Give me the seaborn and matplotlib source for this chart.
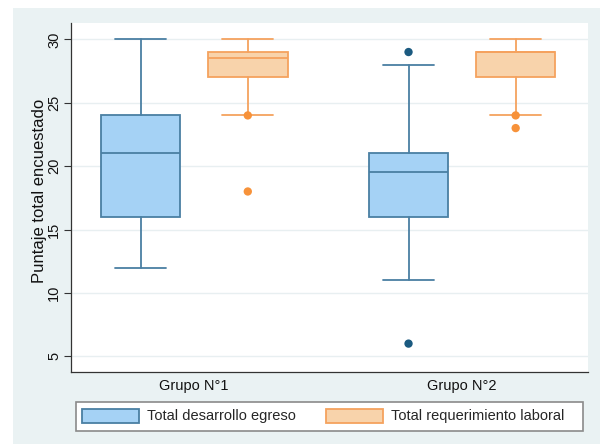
import numpy as np
import pandas as pd
import matplotlib
matplotlib.use("Agg")
import matplotlib.pyplot as plt
import seaborn as sns
from matplotlib.patches import Patch, Rectangle

# ---- data ----
groups = ["Grupo N°1", "Grupo N°2"]
series = ["Total desarrollo egreso", "Total requerimiento laboral"]

des_low = [12, 11]
des_q1 = [16, 16]
des_med = [21, 19.5]
des_q3 = [24, 21]
des_high = [30, 28]
des_out = [[], [29, 6]]

req_low = [24, 24]
req_q1 = [27, 27]
req_med = [28.5, 29]
req_q3 = [29, 29]
req_high = [30, 30]
req_out = [[24, 18], [24, 23]]

y_ticks = [5, 10, 15, 20, 25, 30]
y_label = "Puntaje total encuestado"

# ---- style ----
sns.set_theme(style="white")
plt.rcParams['font.family'] = ['Liberation Sans', 'DejaVu Sans']

fills = {series[0]: "#A5D2F5", series[1]: "#F8D3AB"}
edges = {series[0]: "#4A7FA3", series[1]: "#F5A25E"}
fliers = {series[0]: "#1B5A80", series[1]: "#F7923A"}
offsets = {series[0]: -0.2, series[1]: 0.2}

W, H = 604, 445
fig = plt.figure(figsize=(W / 100, H / 100), dpi=100, facecolor="white")
fig.patches.append(Rectangle((13 / W, 1 / H), (600 - 13) / W, (445 - 8 - 1) / H,
                             transform=fig.transFigure, facecolor="#EAF2F3",
                             edgecolor="none", zorder=-10))
# legend frame
fig.patches.append(Rectangle((76 / W, 1 - 431 / H), (583 - 76) / W, (431 - 402) / H,
                             transform=fig.transFigure, facecolor="white",
                             edgecolor="#8A8A8A", linewidth=1.2, zorder=-5))
ax = fig.add_axes([71 / W, 1 - 372 / H, (588 - 71) / W, (372 - 23) / H])
ax.set_zorder(1)
ax.set_facecolor("white")

pos = np.arange(len(groups))
stats_all = {
    series[0]: (des_low, des_q1, des_med, des_q3, des_high),
    series[1]: (req_low, req_q1, req_med, req_q3, req_high),
}
for s in series:
    lo, q1, med, q3, hi = stats_all[s]
    stats = [dict(whislo=lo[i], q1=q1[i], med=med[i], q3=q3[i], whishi=hi[i], fliers=[])
             for i in range(len(groups))]
    lw = 1.3
    ax.bxp(stats, positions=pos + offsets[s], widths=0.297, capwidths=0.19,
           showfliers=False, patch_artist=True, manage_ticks=False,
           boxprops=dict(facecolor=fills[s], edgecolor=edges[s], linewidth=lw),
           whiskerprops=dict(color=edges[s], linewidth=lw),
           capprops=dict(color=edges[s], linewidth=lw),
           medianprops=dict(color=edges[s], linewidth=lw))

rows = []
for s, outs in ((series[0], des_out), (series[1], req_out)):
    for i, vals in enumerate(outs):
        for v in vals:
            rows.append(dict(x=pos[i] + offsets[s], y=v, serie=s))
df_out = pd.DataFrame(rows)
sns.scatterplot(data=df_out, x="x", y="y", hue="serie", palette=fliers, s=36,
                edgecolor="none", legend=False, ax=ax, zorder=4)

ax.set_xlim(-0.46, 1.47)
ax.set_ylim(3.76, 31.29)
ax.set_yticks(y_ticks)
ax.set_xticks(pos, groups)
ax.set_xlabel("")
ax.set_ylabel(y_label, fontsize=12, color="#111")
ax.yaxis.set_label_coords(-0.046, 0.52)
ax.yaxis.grid(True, color="#E8EFF1", linewidth=1.0)
ax.xaxis.grid(False)
ax.set_axisbelow(True)
for sp in ("top", "right"):
    ax.spines[sp].set_visible(False)
for sp in ("left", "bottom"):
    ax.spines[sp].set_color("#333333")
    ax.spines[sp].set_linewidth(0.9)
ax.tick_params(axis="y", length=5, width=0.8, color="#333333", labelsize=10.5,
               pad=2, left=True, labelcolor="#111")
ax.tick_params(axis="x", length=0, pad=5, labelsize=10.5, labelcolor="#111")
for t in ax.get_yticklabels():
    t.set_rotation(90)
    t.set_va("center")

handles = [Patch(facecolor=fills[s], edgecolor=edges[s], linewidth=1.3) for s in series]
leg = fig.legend(handles, series, loc="center left",
                 bbox_to_anchor=(82 / W, 1 - 416 / H),
                 ncol=2, frameon=False,
                 handlelength=3.9, handleheight=1.1, borderaxespad=0,
                 fontsize=10.5, borderpad=0, handletextpad=0.57,
                 columnspacing=2.05)

fig.savefig("out.png", dpi=100, facecolor=fig.get_facecolor())
